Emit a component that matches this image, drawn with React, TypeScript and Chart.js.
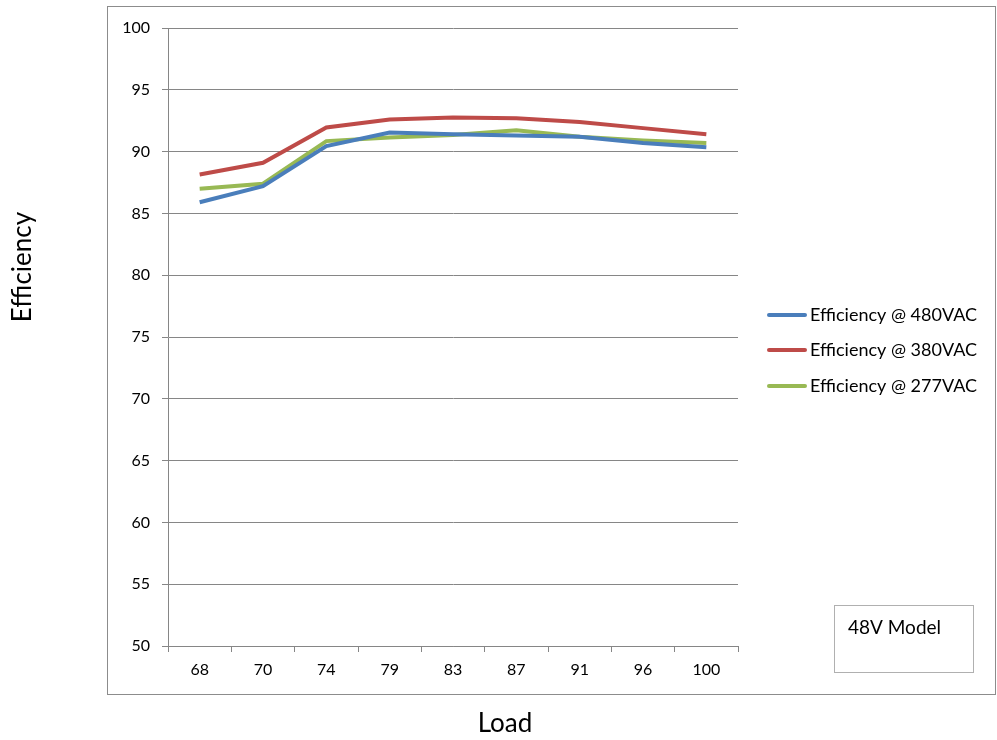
import React, { useEffect, useRef } from "react";
import { Chart, registerables } from "chart.js";

Chart.register(...registerables);

const categories = ["68", "70", "74", "79", "83", "87", "91", "96", "100"];
const eff480 = [85.9, 87.2, 90.45, 91.55, 91.4, 91.3, 91.2, 90.7, 90.35];
const eff380 = [88.15, 89.1, 91.95, 92.6, 92.75, 92.7, 92.4, 91.9, 91.4];
const eff277 = [87.0, 87.4, 90.85, 91.15, 91.35, 91.72, 91.2, 90.9, 90.7];
const seriesLabels = ["Efficiency @ 480VAC", "Efficiency @ 380VAC", "Efficiency @ 277VAC"];
const seriesColors = ["#4A7EBB", "#BE4B48", "#98B954"];
const yTitle = "Efficiency";
const xTitle = "Load";
const noteText = "48V Model";

const FONT = "Lato, 'Noto Sans', sans-serif";

const decorPlugin = {
  id: "decor",
  beforeDraw(chart: any) {
    const ctx = chart.ctx;
    ctx.save();
    ctx.fillStyle = "#ffffff";
    ctx.fillRect(0, 0, chart.width, chart.height);
    ctx.strokeStyle = "#8c8c8c";
    ctx.lineWidth = 1;
    ctx.strokeRect(107.5, 6.5, 888, 688);
    ctx.restore();
  },
  afterDraw(chart: any) {
    const ctx = chart.ctx;
    ctx.save();
    // axis titles
    ctx.fillStyle = "#000";
    ctx.font = `26px ${FONT}`;
    ctx.textAlign = "center";
    ctx.textBaseline = "middle";
    ctx.fillText(xTitle, 505, 724);
    ctx.translate(23, 267);
    ctx.rotate(-Math.PI / 2);
    ctx.fillText(yTitle, 0, 0);
    ctx.restore();

    // legend
    ctx.save();
    const ys = [315, 350, 386];
    chart.data.datasets.forEach((ds: any, i: number) => {
      ctx.strokeStyle = ds.borderColor;
      ctx.lineWidth = 4;
      ctx.lineCap = "round";
      ctx.beginPath();
      ctx.moveTo(769, ys[i]);
      ctx.lineTo(805, ys[i]);
      ctx.stroke();
      ctx.fillStyle = "#000";
      ctx.font = `18px ${FONT}`;
      ctx.textAlign = "left";
      ctx.textBaseline = "middle";
      ctx.fillText(ds.label, 810, ys[i]);
    });
    ctx.restore();

    // note box
    ctx.save();
    ctx.strokeStyle = "#b0b0b0";
    ctx.lineWidth = 1;
    ctx.strokeRect(834.5, 605.5, 139, 67);
    ctx.fillStyle = "#000";
    ctx.font = `19px ${FONT}`;
    ctx.textAlign = "left";
    ctx.textBaseline = "middle";
    ctx.fillText(noteText, 848, 628);
    ctx.restore();
  },
};

export default function App() {
  const ref = useRef<HTMLCanvasElement>(null);
  useEffect(() => {
    if (!ref.current) return;
    const series = [eff480, eff380, eff277];
    const chart = new Chart(ref.current, {
      type: "line",
      data: {
        labels: categories,
        datasets: series.map((d, i) => ({
          label: seriesLabels[i],
          data: d,
          borderColor: seriesColors[i],
          backgroundColor: seriesColors[i],
          borderWidth: 4,
          pointRadius: 0,
          tension: 0,
          fill: false,
        })),
      },
      options: {
        animation: false,
        responsive: false,
        devicePixelRatio: 1,
        layout: { padding: { left: 108, right: 259, top: 28, bottom: 54 } },
        plugins: {
          legend: { display: false },
          tooltip: { enabled: false },
        },
        scales: {
          x: {
            type: "category",
            offset: true,
            afterFit: (s: any) => {
              s.height = 40;
            },
            grid: {
              offset: true,
              drawOnChartArea: false,
              drawTicks: true,
              tickLength: 6,
              color: "#868686",
            },
            border: { color: "#868686", width: 1 },
            ticks: {
              color: "#000",
              font: { family: FONT, size: 16 },
              padding: 8,
              maxRotation: 0,
            },
          },
          y: {
            min: 50,
            max: 100,
            afterFit: (s: any) => {
              s.width = 60;
            },
            ticks: {
              stepSize: 5,
              color: "#000",
              font: { family: FONT, size: 16 },
              padding: 12,
            },
            grid: { color: "#868686", tickLength: 6 },
            border: { color: "#868686", width: 1 },
          },
        },
      },
      plugins: [decorPlugin],
    });
    return () => chart.destroy();
  }, []);
  return (
    <div style={{ position: "absolute", left: 0, top: 0, width: 997, height: 740 }}>
      <canvas ref={ref} width={997} height={740} style={{ width: 997, height: 740 }} />
    </div>
  );
}
